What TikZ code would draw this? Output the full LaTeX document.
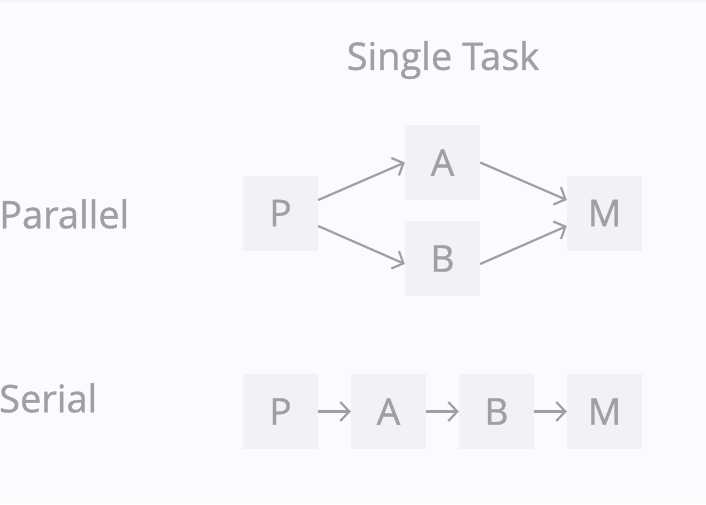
\documentclass[tikz,border=0pt]{standalone}
\usepackage{fontspec}
\setmainfont{Open Sans}
\newfontfamily\semifont{Open Sans}[FakeBold=0.9]
\usetikzlibrary{arrows.meta}
\definecolor{bgc}{HTML}{FBFBFD}
\definecolor{topc}{HTML}{F4F5FD}
\definecolor{boxc}{HTML}{F2F2F4}
\definecolor{inkc}{HTML}{9FA0A4}
\tikzset{
  taskbox/.style={fill=boxc, minimum width=75pt, minimum height=75pt, inner sep=0pt,
    text=inkc, font=\semifont\fontsize{37}{40}\selectfont},
  rowlabel/.style={anchor=west, inner sep=0pt, text=inkc, font=\semifont\fontsize{38}{40}\selectfont},
  title/.style={inner sep=0pt, text=inkc, font=\semifont\fontsize{38}{40}\selectfont},
  conn/.style={draw=inkc, line width=2.2pt, -{Straight Barb[length=9pt,width=19pt]}}
}
\begin{document}
\begin{tikzpicture}[x=1pt,y=-1pt]
\fill[bgc] (0,0) rectangle (706,504);
\fill[topc] (0,0) rectangle (706,3);
\useasboundingbox (0,0) rectangle (706,504);

\node[title] (t) at (443,60) {Single Task};
\node[rowlabel] (lp) at (-1,214) {Parallel};
\node[rowlabel] (ls) at (-1,398) {Serial};

% parallel
\node[taskbox] (pp) at (280.5,213) {P};
\node[taskbox] (pa) at (442.5,162.5) {A};
\node[taskbox] (pb) at (442.5,258.5) {B};
\node[taskbox] (pm) at (604.5,213) {M};

\draw[conn] ([yshift=13pt]pp.east) -- (pa.west);
\draw[conn] ([yshift=-13pt]pp.east) -- ([yshift=-5.5pt]pb.west);
\draw[conn] (pa.east) -- ([yshift=13pt]pm.west);
\draw[conn] ([yshift=-5.5pt]pb.east) -- ([yshift=-13pt]pm.west);

% serial
\node[taskbox] (sp) at (280.5,411.5) {P};
\node[taskbox] (sa) at (388.5,411.5) {A};
\node[taskbox] (sb) at (496.5,411.5) {B};
\node[taskbox] (sm) at (604.5,411.5) {M};

\draw[conn] (sp) -- (sa);
\draw[conn] (sa) -- (sb);
\draw[conn] (sb) -- (sm);
\end{tikzpicture}
\end{document}
